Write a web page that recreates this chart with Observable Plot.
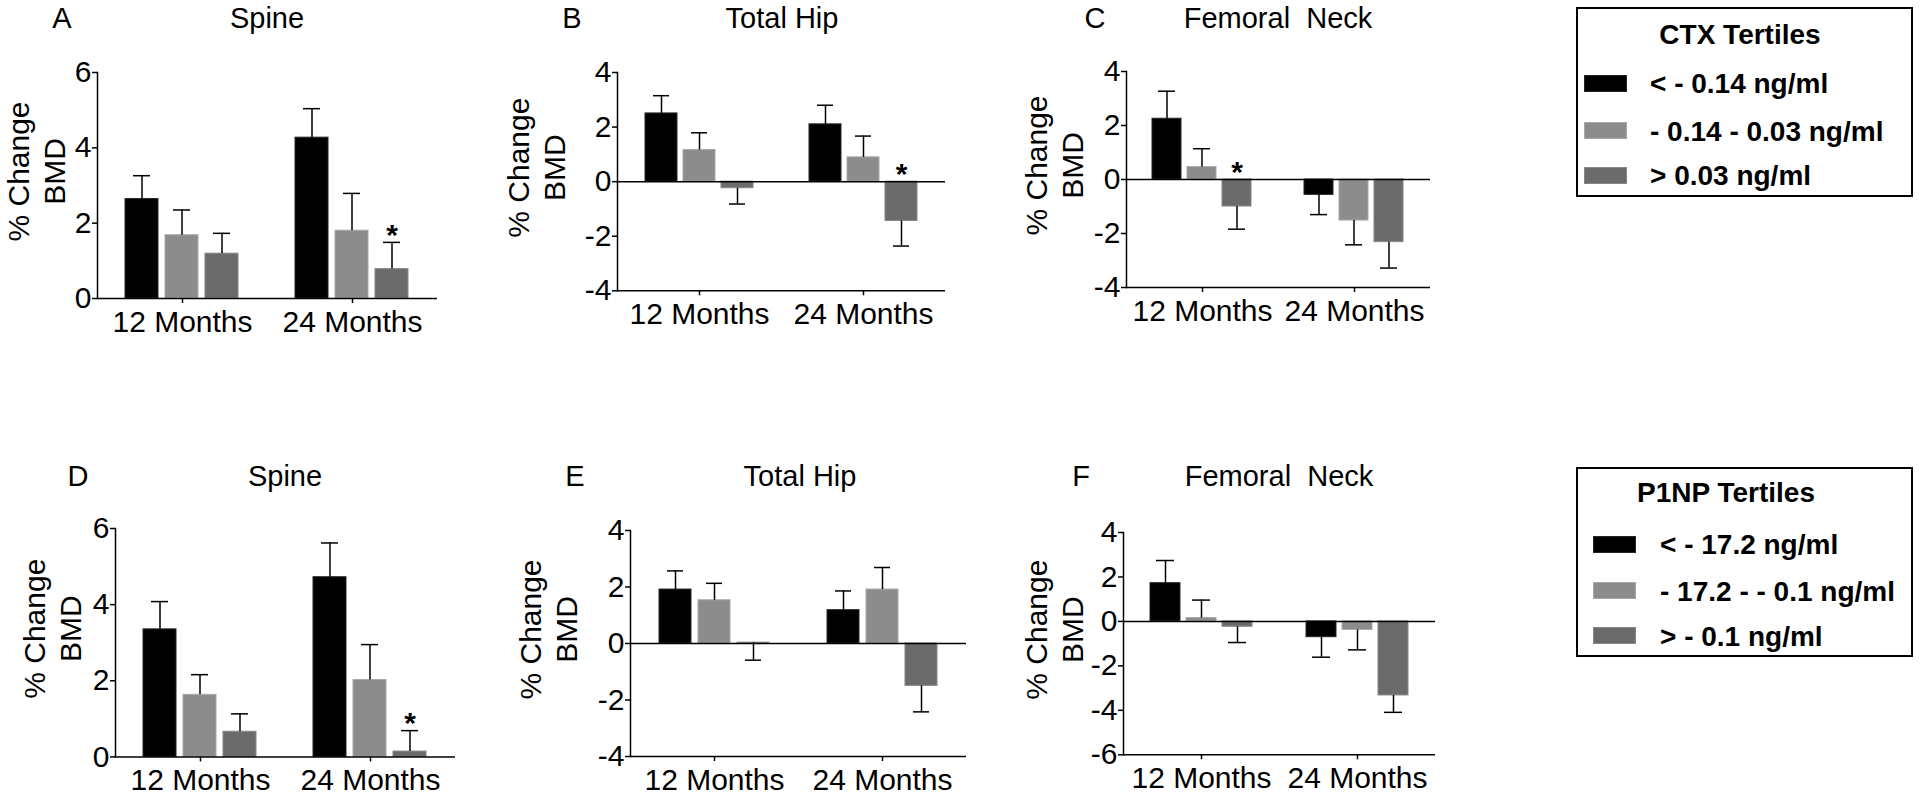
<!DOCTYPE html>
<html><head><meta charset="utf-8">
<script src="https://cdn.jsdelivr.net/npm/d3@7"></script>
<script src="https://cdn.jsdelivr.net/npm/@observablehq/plot@0.6"></script>
<style>
html,body{margin:0;padding:0;background:#fff;overflow:hidden;}
#root{position:relative;width:1920px;height:797px;overflow:hidden;font-family:"Liberation Sans",Arial,sans-serif;color:#000;}
.t{position:absolute;line-height:1;white-space:pre;}
.legend{position:absolute;border:2px solid #000;box-sizing:border-box;}
.sw{position:absolute;}
.panel{position:absolute;}
</style></head><body><div id="root"></div>
<script>
// ---------- data ----------
const months = ["12 Months", "24 Months"];
const ctxTertiles = ["< - 0.14 ng/ml", "- 0.14 - 0.03 ng/ml", "> 0.03 ng/ml"];
const p1npTertiles = ["< - 17.2 ng/ml", "- 17.2 - - 0.1 ng/ml", "> - 0.1 ng/ml"];

// order: 12M T1, T2, T3, 24M T1, T2, T3
const spineCTX      = [2.64, 1.68, 1.19, 4.27, 1.80, 0.78];
const spineCTXErr   = [3.26, 2.35, 1.73, 5.04, 2.79, 1.49];
const spineCTXStar  = [0, 0, 0, 0, 0, 1];
const hipCTX        = [2.50, 1.16, -0.24, 2.10, 0.89, -1.44];
const hipCTXErr     = [3.15, 1.79, -0.82, 2.80, 1.67, -2.36];
const hipCTXStar    = [0, 0, 0, 0, 0, 1];
const neckCTX       = [2.25, 0.46, -1.00, -0.57, -1.52, -2.32];
const neckCTXErr    = [3.27, 1.14, -1.84, -1.30, -2.42, -3.28];
const neckCTXStar   = [0, 0, 1, 0, 0, 0];
const spineP1NP     = [3.35, 1.63, 0.66, 4.72, 2.02, 0.14];
const spineP1NPErr  = [4.08, 2.16, 1.13, 5.62, 2.95, 0.69];
const spineP1NPStar = [0, 0, 0, 0, 0, 1];
const hipP1NP       = [1.91, 1.53, 0.03, 1.18, 1.91, -1.50];
const hipP1NPErr    = [2.57, 2.13, -0.59, 1.86, 2.69, -2.42];
const hipP1NPStar   = [0, 0, 0, 0, 0, 0];
const neckP1NP      = [1.72, 0.15, -0.24, -0.71, -0.38, -3.33];
const neckP1NPErr   = [2.74, 0.96, -0.95, -1.61, -1.28, -4.09];
const neckP1NPStar  = [0, 0, 0, 0, 0, 0];

const ticksSpine = [0, 2, 4, 6];
const ticksHip = [-4, -2, 0, 2, 4];
const ticksNeckP1NP = [-6, -4, -2, 0, 2, 4];

// ---------- style ----------
const FONT = '"Liberation Sans", Arial, sans-serif';
const tertileColors = ["#000000", "#8c8c8c", "#6b6b6b"];
const tertileEdges = ["#262626", "#a8a8a8", "#868686"];

const panels = [
  {letter:"A", title:"Spine", tertiles:ctxTertiles, values:spineCTX, errors:spineCTXErr, stars:spineCTXStar, yDomain:[0,6], yTicks:ticksSpine,
   axisX:97, xEnd:437, yTop:71.7, yBottom:297.7, labelDx:-94, letterX:62, titleX:267, baseline:29, capInset:8},
  {letter:"B", title:"Total Hip", tertiles:ctxTertiles, values:hipCTX, errors:hipCTXErr, stars:hipCTXStar, yDomain:[-4,4], yTicks:ticksHip,
   axisX:617, xEnd:945, yTop:71.7, yBottom:290, labelDx:-114, letterX:572, titleX:782, baseline:29, capInset:8},
  {letter:"C", title:"Femoral  Neck", tertiles:ctxTertiles, values:neckCTX, errors:neckCTXErr, stars:neckCTXStar, yDomain:[-4,4], yTicks:ticksHip,
   axisX:1126, xEnd:1430, yTop:70.7, yBottom:286.7, labelDx:-105, letterX:1095, titleX:1278, baseline:29, capInset:6},
  {letter:"D", title:"Spine", tertiles:p1npTertiles, values:spineP1NP, errors:spineP1NPErr, stars:spineP1NPStar, yDomain:[0,6], yTicks:ticksSpine,
   axisX:114, xEnd:455, yTop:528.3, yBottom:756.7, labelDx:-96, letterX:78, titleX:285, baseline:487, capInset:8},
  {letter:"E", title:"Total Hip", tertiles:p1npTertiles, values:hipP1NP, errors:hipP1NPErr, stars:hipP1NPStar, yDomain:[-4,4], yTicks:ticksHip,
   axisX:630, xEnd:966, yTop:530, yBottom:756, labelDx:-115, letterX:575, titleX:800, baseline:487, capInset:8},
  {letter:"F", title:"Femoral  Neck", tertiles:p1npTertiles, values:neckP1NP, errors:neckP1NPErr, stars:neckP1NPStar, yDomain:[-6,4], yTicks:ticksNeckP1NP,
   axisX:1123, xEnd:1435, yTop:531.7, yBottom:754, labelDx:-102, letterX:1081, titleX:1279, baseline:487, capInset:6}
];

const root = document.getElementById("root");

function placeText(str, x, baseline, fs, weight, anchor) {
  const d = document.createElement("div");
  d.className = "t";
  d.textContent = str;
  d.style.fontSize = fs + "px";
  d.style.fontWeight = weight;
  d.style.top = (baseline - 0.8465 * fs) + "px";
  d.style.left = x + "px";
  if (anchor === "middle") d.style.transform = "translateX(-50%)";
  root.appendChild(d);
  return d;
}

for (const p of panels) {
  const rows = months.flatMap((m, i) => p.tertiles.map((t, j) => ({
    month: m, tertile: t, value: p.values[i * 3 + j], err: p.errors[i * 3 + j], star: p.stars[i * 3 + j]
  })));
  const baseLines = Array.from(new Set([p.yDomain[0], 0]));
  const ML = -p.labelDx + 4, MR = 6, MT = 20, MB = 50;
  const chart = Plot.plot({
    width: ML + (p.xEnd - p.axisX) + MR,
    height: MT + (p.yBottom - p.yTop) + MB,
    marginLeft: ML, marginRight: MR, marginTop: MT, marginBottom: MB,
    style: {fontFamily: FONT, fontSize: "30px", color: "#000", background: "transparent", overflow: "visible"},
    fx: {domain: months, padding: 0, label: null},
    x: {domain: p.tertiles, paddingInner: 0.17, paddingOuter: 0.71, axis: null},
    y: {domain: p.yDomain},
    marks: [
      ...p.tertiles.map((t, j) => Plot.barY(rows.filter(r => r.tertile === t), {
        fx: "month", x: "tertile", y: "value", fill: tertileColors[j], stroke: tertileEdges[j], strokeWidth: 1
      })),
      Plot.ruleY(baseLines, {stroke: "#000", strokeWidth: 1.5}),
      Plot.ruleX(rows, {fx: "month", x: "tertile", y1: "value", y2: "err", stroke: "#000", strokeWidth: 1.5}),
      Plot.tickY(rows, {fx: "month", x: "tertile", y: "err", insetLeft: p.capInset, insetRight: p.capInset, stroke: "#000", strokeWidth: 1.5}),
      Plot.text(rows.filter(r => r.star), {fx: "month", x: "tertile", y: r => Math.max(0, r.value, r.err), text: () => "*", dy: -7, fontSize: 30, fontWeight: "bold"}),
      Plot.axisY({ticks: p.yTicks, tickSize: 5, tickPadding: 1, tickFormat: d => `${d}`, label: null, strokeWidth: 1.5}),
      Plot.axisFx({anchor: "bottom", tickSize: 5, tickPadding: 7, label: null, strokeWidth: 1.5}),
      Plot.frame({anchor: "left", facet: "super", stroke: "#000", strokeWidth: 1.5}),
      Plot.text(["% Change\nBMD"], {text: d => d, frameAnchor: "left", textAnchor: "middle", rotate: -90, lineAnchor: "top", lineHeight: 1.2, dx: p.labelDx, dy: -14, fontSize: 30, facet: "super"})
    ]
  });
  chart.classList.add("panel");
  chart.style.left = (p.axisX - ML) + "px";
  chart.style.top = (p.yTop - MT) + "px";
  root.appendChild(chart);
  placeText(p.letter, p.letterX, p.baseline, 29, "normal", "middle");
  placeText(p.title, p.titleX, p.baseline, 29, "normal", "middle");
}

// ---------- legends ----------
const legends = [
  {title: "CTX Tertiles", items: ctxTertiles, left: 1576, top: 7, width: 337, height: 190, titleX: 164, titleBase: 38,
   swLeft: 8, labLeft: 74, swTops: [68, 115, 160], bases: [87, 135, 179]},
  {title: "P1NP Tertiles", items: p1npTertiles, left: 1576, top: 467, width: 337, height: 190, titleX: 150, titleBase: 36,
   swLeft: 17, labLeft: 84, swTops: [69, 115, 160], bases: [88, 135, 180]}
];
for (const L of legends) {
  const box = document.createElement("div");
  box.className = "legend";
  Object.assign(box.style, {left: L.left + "px", top: L.top + "px", width: L.width + "px", height: L.height + "px"});
  root.appendChild(box);
  placeText(L.title, L.left + L.titleX, L.top + L.titleBase, 28, "bold", "middle");
  L.items.forEach((it, j) => {
    const sw = document.createElement("div");
    sw.className = "sw";
    Object.assign(sw.style, {left: (L.left + L.swLeft) + "px", top: (L.top + L.swTops[j]) + "px", width: "43px", height: "17px",
      background: tertileColors[j], boxSizing: "border-box", border: "1px solid " + tertileEdges[j]});
    root.appendChild(sw);
    placeText(it, L.left + L.labLeft, L.top + L.bases[j], 28, "bold", "start");
  });
}
</script></body></html>
